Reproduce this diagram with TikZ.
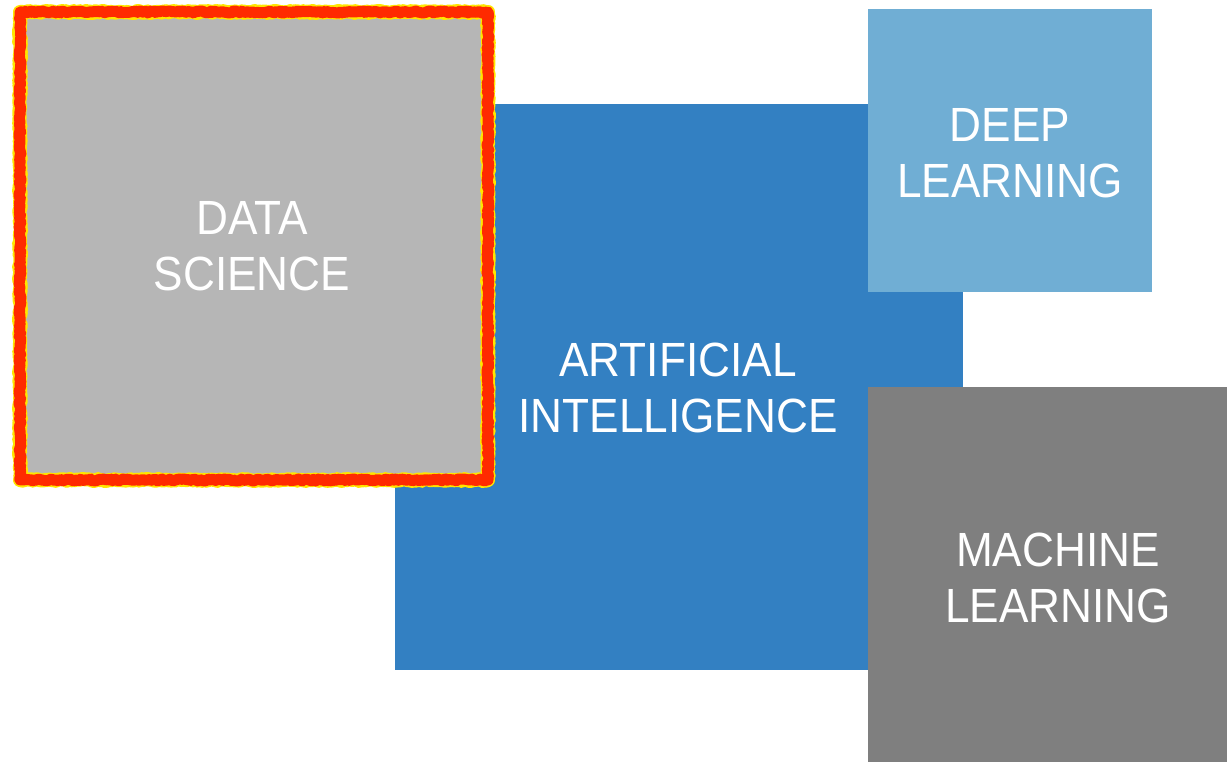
\documentclass[tikz,border=0pt]{standalone}
\usepackage{fontspec}
\setmainfont{Liberation Sans}
\usetikzlibrary{decorations.pathmorphing}
\definecolor{aiblue}{HTML}{3380C2}
\definecolor{dlblue}{HTML}{70AED4}
\definecolor{mlgray}{HTML}{7F7F7F}
\definecolor{dsgray}{HTML}{B6B6B6}
\definecolor{fire}{HTML}{FF2A00}
\definecolor{fireyellow}{HTML}{FFE600}
\tikzset{
  lbl/.style={text=white, align=center, font=\fontsize{48}{56}\selectfont, inner sep=0pt, transform shape, xscale=0.92},
  rough/.style={decorate, decoration={random steps, segment length=2pt, amplitude=1pt}, line join=round, line cap=round},
}
\begin{document}
\begin{tikzpicture}[x=1pt,y=-1pt]
\pgfmathsetseed{7}
\useasboundingbox (0,0) rectangle (1227,762);
\fill[white] (0,0) rectangle (1227,762);
% Artificial intelligence
\fill[aiblue] (395,104) rectangle (963,670);
\node[lbl] (ai) at (678,388) {ARTIFICIAL\\INTELLIGENCE};
% Deep learning
\fill[dlblue] (868,9) rectangle (1152,292);
\node[lbl] (dl) at (1010,153) {DEEP\\LEARNING};
% Machine learning
\fill[mlgray] (868,387) rectangle (1227,762);
\node[lbl] (ml) at (1058,578) {MACHINE\\LEARNING};
% Data science
\fill[dsgray] (18,10) rectangle (490,482);
\draw[fireyellow, line width=14pt, rough] (20,12) -- (488,12) -- (488,480) -- (20,480) -- cycle;
\draw[fire, line width=11pt, rough] (20,12) -- (488,12) -- (488,480) -- (20,480) -- cycle;
\node[lbl] (ds) at (252,246) {DATA\\SCIENCE};
\end{tikzpicture}
\end{document}
